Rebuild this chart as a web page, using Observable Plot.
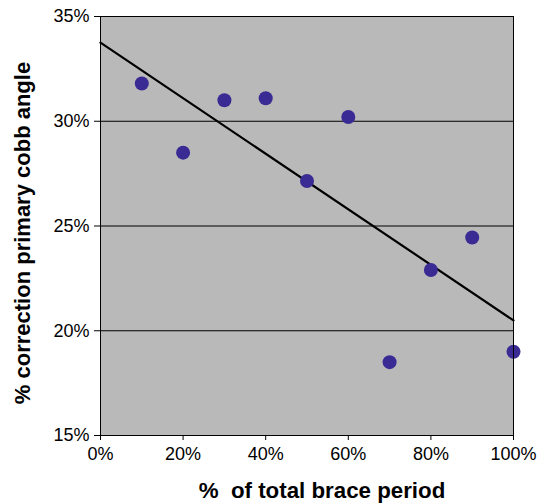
<!DOCTYPE html>
<html>
<head>
<meta charset="utf-8">
<script src="https://cdn.jsdelivr.net/npm/d3@7"></script>
<script src="https://cdn.jsdelivr.net/npm/@observablehq/plot@0.6"></script>
<style>
  html, body { margin: 0; padding: 0; background: #fff; }
</style>
</head>
<body>
<div id="chart"></div>
<script>
const bracePeriod = [10, 20, 30, 40, 50, 60, 70, 80, 90, 100];
const correction = [31.8, 28.5, 31.0, 31.1, 27.15, 30.2, 18.5, 22.9, 24.45, 19.0];
const xTicks = [0, 20, 40, 60, 80, 100];
const yTicks = [15, 20, 25, 30, 35];
const gridLines = [20, 25, 30];
const xLabel = "%  of total brace period";
const yLabel = "% correction primary cobb angle";

const data = bracePeriod.map((x, i) => ({x, y: correction[i]}));

// least-squares trend line over the full x domain
const mx = d3.mean(bracePeriod), my = d3.mean(correction);
const slope = d3.sum(data, d => (d.x - mx) * (d.y - my)) / d3.sum(data, d => (d.x - mx) ** 2);
const intercept = my - slope * mx;
const trend = [0, 100].map(x => ({x, y: intercept + slope * x}));

const chart = Plot.plot({
  width: 538,
  height: 503,
  marginLeft: 100,
  marginRight: 25,
  marginTop: 16,
  marginBottom: 68,
  style: {fontFamily: "'Liberation Sans', Arial, Helvetica, sans-serif", fontSize: "18px", color: "black", background: "white"},
  x: {domain: [0, 100], label: null},
  y: {domain: [15, 35], label: null},
  marks: [
    Plot.frame({fill: "#b9b9b9", stroke: "none"}),
    Plot.ruleY(gridLines, {stroke: "black", strokeWidth: 1}),
    Plot.line(trend, {x: "x", y: "y", stroke: "black", strokeWidth: 2.2}),
    Plot.dot(data, {x: "x", y: "y", r: 7, fill: "#3a2a94", stroke: "none"}),
    Plot.frame({stroke: "black", strokeWidth: 1}),
    Plot.axisX({ticks: xTicks, tickFormat: d => d + "%", tickSize: 5, tickPadding: 7, fontSize: 18, label: null}),
    Plot.axisY({ticks: yTicks, tickFormat: d => d + "%", tickSize: 6, tickPadding: 5, fontSize: 18, label: null}),
    Plot.text([xLabel], {frameAnchor: "bottom", dx: 15, dy: 55, fontSize: 22.3, fontWeight: "bold", textAnchor: "middle", lineAnchor: "middle"}),
    Plot.text([yLabel], {frameAnchor: "left", rotate: -90, dx: -78, dy: 7, fontSize: 22, fontWeight: "bold", textAnchor: "middle", lineAnchor: "middle"})
  ]
});
document.getElementById("chart").appendChild(chart);
</script>
</body>
</html>
